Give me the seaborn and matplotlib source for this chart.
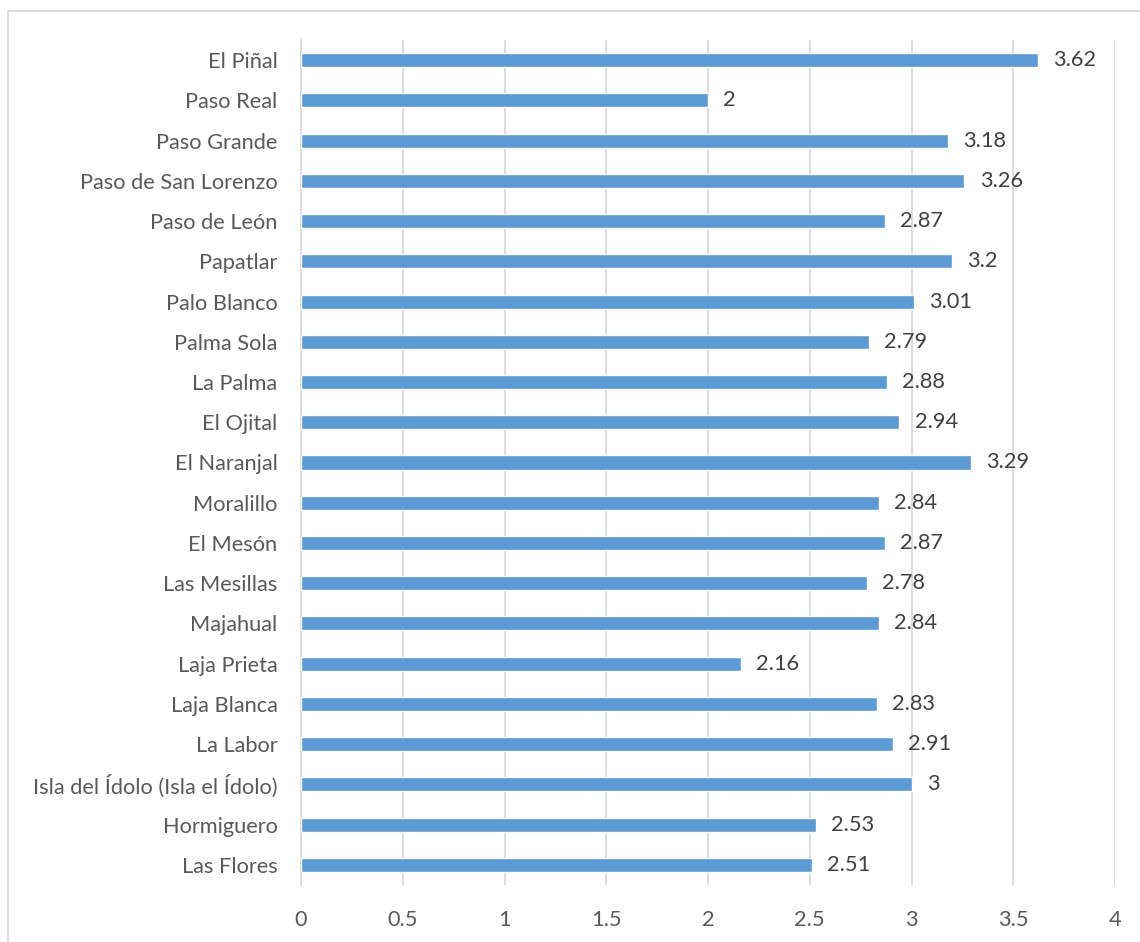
import matplotlib
matplotlib.use("Agg")
import matplotlib.pyplot as plt
from matplotlib.lines import Line2D
import seaborn as sns
import pandas as pd

comunidades = [
    "El Piñal", "Paso Real", "Paso Grande", "Paso de San Lorenzo", "Paso de León",
    "Papatlar", "Palo Blanco", "Palma Sola", "La Palma", "El Ojital", "El Naranjal",
    "Moralillo", "El Mesón", "Las Mesillas", "Majahual", "Laja Prieta", "Laja Blanca",
    "La Labor", "Isla del Ídolo (Isla el Ídolo)", "Hormiguero", "Las Flores",
]
valores = [
    3.62, 2, 3.18, 3.26, 2.87, 3.2, 3.01, 2.79, 2.88, 2.94, 3.29,
    2.84, 2.87, 2.78, 2.84, 2.16, 2.83, 2.91, 3, 2.53, 2.51,
]
etiquetas = ["3.62", "2", "3.18", "3.26", "2.87", "3.2", "3.01", "2.79", "2.88", "2.94",
             "3.29", "2.84", "2.87", "2.78", "2.84", "2.16", "2.83", "2.91", "3", "2.53", "2.51"]
ticks_x = [0, 0.5, 1, 1.5, 2, 2.5, 3, 3.5, 4]
ticks_x_txt = ["0", "0.5", "1", "1.5", "2", "2.5", "3", "3.5", "4"]

sns.set_theme(style="white")
plt.rcParams["font.family"] = ["Lato", "DejaVu Sans"]

df = pd.DataFrame({"comunidad": comunidades, "valor": valores})

fig = plt.figure(figsize=(11.4, 9.42), dpi=100)
ax = fig.add_axes([301 / 1140, 1 - 885 / 942, 814 / 1140, 845 / 942])

sns.barplot(data=df, x="valor", y="comunidad", orient="h", color="#5B9BD5",
            saturation=1, width=0.35, ax=ax, zorder=3)

ax.set_xlim(0, 4)
ax.set_xticks(ticks_x)
ax.set_xticklabels(ticks_x_txt)
ax.set_xlabel("")
ax.set_ylabel("")
ax.grid(axis="x", color="#D9D9D9", linewidth=1.3, zorder=0)
ax.grid(axis="y", visible=False)
for s in ["top", "right", "bottom"]:
    ax.spines[s].set_visible(False)
ax.spines["left"].set_color("#D9D9D9")
ax.spines["left"].set_linewidth(1.3)
ax.tick_params(axis="both", length=0, labelsize=15.7, colors="#595959")
ax.tick_params(axis="x", pad=18)
ax.tick_params(axis="y", pad=17)

for cont in ax.containers:
    ax.bar_label(cont, labels=etiquetas, padding=11, fontsize=15.7, color="#404040")

# chart area frame
fig.add_artist(Line2D([8 / 1140, 8 / 1140], [0, 1 - 11 / 942], transform=fig.transFigure,
                      color="#D9D9D9", linewidth=1.3))
fig.add_artist(Line2D([8 / 1140, 1], [1 - 11 / 942, 1 - 11 / 942], transform=fig.transFigure,
                      color="#D9D9D9", linewidth=1.3))

fig.savefig("out.png", dpi=100)
